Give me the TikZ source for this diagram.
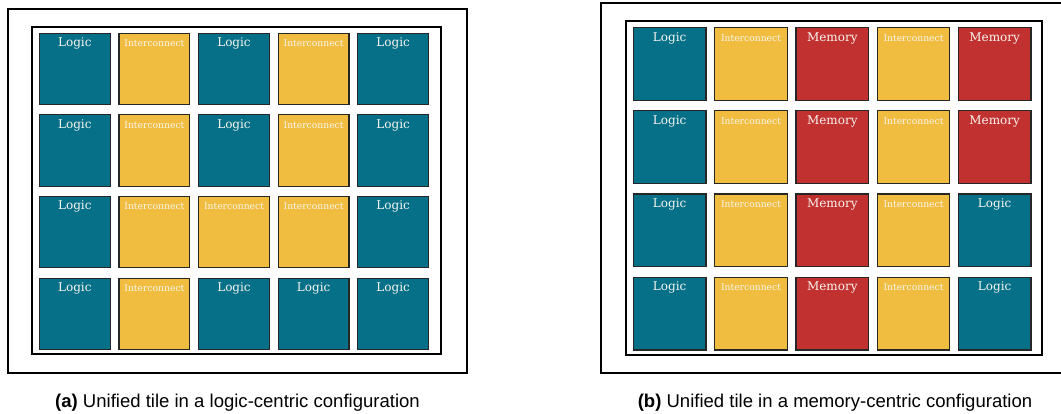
\documentclass[tikz,border=0pt]{standalone}
\usepackage{fontspec}
\setmainfont{DejaVu Serif}
\newfontfamily\capfont{Liberation Sans}
\usepackage{tikz}

\definecolor{tealtile}{RGB}{5,112,135}
\definecolor{goldtile}{RGB}{240,189,64}
\definecolor{redtile}{RGB}{193,49,48}
\definecolor{tiletext}{RGB}{248,246,240}

\begin{document}
\begin{tikzpicture}[x=0.75pt,y=-0.75pt,
    frame/.style={draw=black,line width=1.5pt},
    tile/.style={draw=black!85,line width=0.9pt,inner sep=0pt,text=tiletext,
        text height=10pt,text depth=43.5pt,align=center},
    ltile/.style={tile,fill=tealtile,minimum width=53.2pt,minimum height=53.2pt,font=\fontsize{9}{10}\selectfont},
    itile/.style={tile,fill=goldtile,minimum width=53.2pt,minimum height=53.2pt,font=\fontsize{6.9}{8}\selectfont},
    mtile/.style={tile,fill=redtile,minimum width=53.2pt,minimum height=53.2pt,font=\fontsize{9}{10}\selectfont},
    bigl/.style={ltile,minimum width=54.5pt,minimum height=54.5pt,text depth=44.5pt},
    bigi/.style={itile,minimum width=54.5pt,minimum height=54.5pt,text depth=44.5pt},
    bigm/.style={mtile,minimum width=54.5pt,minimum height=54.5pt,text depth=44.5pt},
    caption/.style={font=\capfont\fontsize{13.9}{16}\selectfont}]
    \useasboundingbox (0,0) rectangle (1061,414);

    % (a) logic-centric
    \draw[frame] (8,9.3) rectangle (467,372.7);
    \draw[frame] (32,27.3) rectangle (440.7,354.3);
    \node[ltile] (a11) at (74.8,68.8) {Logic};
    \node[itile] (a12) at (154.4,68.8) {Interconnect};
    \node[ltile] (a13) at (234.0,68.8) {Logic};
    \node[itile] (a14) at (313.6,68.8) {Interconnect};
    \node[ltile] (a15) at (393.2,68.8) {Logic};
    \node[ltile] (a21) at (74.8,150.5) {Logic};
    \node[itile] (a22) at (154.4,150.5) {Interconnect};
    \node[ltile] (a23) at (234.0,150.5) {Logic};
    \node[itile] (a24) at (313.6,150.5) {Interconnect};
    \node[ltile] (a25) at (393.2,150.5) {Logic};
    \node[ltile] (a31) at (74.8,232.2) {Logic};
    \node[itile] (a32) at (154.4,232.2) {Interconnect};
    \node[itile] (a33) at (234.0,232.2) {Interconnect};
    \node[itile] (a34) at (313.6,232.2) {Interconnect};
    \node[ltile] (a35) at (393.2,232.2) {Logic};
    \node[ltile] (a41) at (74.8,313.9) {Logic};
    \node[itile] (a42) at (154.4,313.9) {Interconnect};
    \node[ltile] (a43) at (234.0,313.9) {Logic};
    \node[ltile] (a44) at (313.6,313.9) {Logic};
    \node[ltile] (a45) at (393.2,313.9) {Logic};
    \node[caption] (capa) at (237.5,403) {\textbf{(a)} Unified tile in a logic-centric configuration};

    % (b) memory-centric
    \draw[frame] (1075,3) -- (601,3) -- (601,373.3) -- (1075,373.3);
    \draw[frame] (625.7,21) rectangle (1042.3,355);
    \node[bigl] (b11) at (669.7,64) {Logic};
    \node[bigi] (b12) at (751.0,64) {Interconnect};
    \node[bigm] (b13) at (832.3,64) {Memory};
    \node[bigi] (b14) at (913.5,64) {Interconnect};
    \node[bigm] (b15) at (994.7,64) {Memory};
    \node[bigl] (b21) at (669.7,147.2) {Logic};
    \node[bigi] (b22) at (751.0,147.2) {Interconnect};
    \node[bigm] (b23) at (832.3,147.2) {Memory};
    \node[bigi] (b24) at (913.5,147.2) {Interconnect};
    \node[bigm] (b25) at (994.7,147.2) {Memory};
    \node[bigl] (b31) at (669.7,230.4) {Logic};
    \node[bigi] (b32) at (751.0,230.4) {Interconnect};
    \node[bigm] (b33) at (832.3,230.4) {Memory};
    \node[bigi] (b34) at (913.5,230.4) {Interconnect};
    \node[bigl] (b35) at (994.7,230.4) {Logic};
    \node[bigl] (b41) at (669.7,313.7) {Logic};
    \node[bigi] (b42) at (751.0,313.7) {Interconnect};
    \node[bigm] (b43) at (832.3,313.7) {Memory};
    \node[bigi] (b44) at (913.5,313.7) {Interconnect};
    \node[bigl] (b45) at (994.7,313.7) {Logic};
    \node[caption] (capb) at (835,403) {\textbf{(b)} Unified tile in a memory-centric configuration};
\end{tikzpicture}
\end{document}
